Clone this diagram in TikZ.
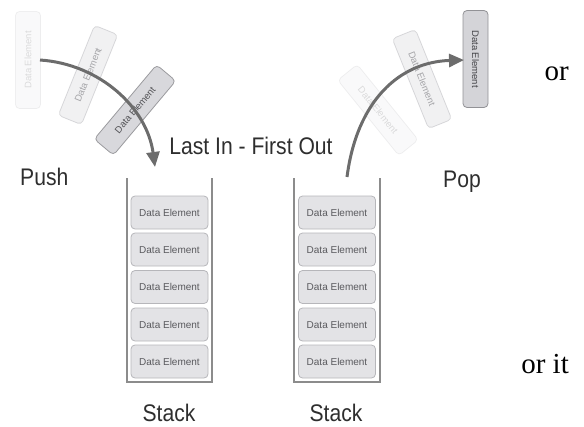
\documentclass[tikz,border=0pt]{standalone}
\usepackage{graphicx}
\usepackage{fontspec}
\setmainfont{Liberation Sans}
\newfontfamily\serifx{Liberation Serif}
\usetikzlibrary{arrows.meta}
\definecolor{elfill}{HTML}{E3E3E6}
\definecolor{elborder}{HTML}{B6B6BA}
\definecolor{eltext}{HTML}{5A5A5E}
\definecolor{darkfill}{HTML}{D4D4D8}
\definecolor{darkborder}{HTML}{929296}
\definecolor{darktext}{HTML}{444448}
\definecolor{arrowcol}{HTML}{6C6C6C}
\definecolor{wallcol}{HTML}{8C8C8C}
\definecolor{lbltext}{HTML}{2E2E2E}
\newcommand\squeezed[1]{\scalebox{0.88}[1]{#1}}
\begin{document}
\begin{tikzpicture}[x=1pt,y=-1pt,
  elem/.style={draw=elborder, line width=0.8pt, fill=elfill, rounded corners=4pt,
    minimum width=77pt, minimum height=33pt, inner sep=0pt, text=eltext,
    font=\fontsize{10}{12}\selectfont},
  fly/.style={elem, minimum width=97pt, minimum height=25pt, font=\fontsize{9.5}{11}\selectfont},
  flydark/.style={fly, fill=darkfill, draw=darkborder, text=darktext},
  lbl/.style={text=lbltext, font=\fontsize{24}{26}\selectfont, inner sep=0pt},
  serlbl/.style={text=black, font=\serifx\fontsize{29}{31}\selectfont, inner sep=0pt},
  wall/.style={draw=wallcol, line width=1.6pt},
  mover/.style={draw=arrowcol, line width=3pt, -{Triangle[length=15pt,width=13pt]}}]
\useasboundingbox (0,0) rectangle (584,426);

% stack walls
\draw[wall] (127,178) -- (127,382) -- (212,382) -- (212,178);
\draw[wall] (294,178) -- (294,382) -- (380,382) -- (380,178);

% stack elements
\node[elem] (l1) at (169.5,212.5) {Data Element};
\node[elem] (l2) at (169.5,249.5) {Data Element};
\node[elem] (l3) at (169.5,287) {Data Element};
\node[elem] (l4) at (169.5,324.5) {Data Element};
\node[elem] (l5) at (169.5,361.5) {Data Element};
\node[elem] (r1) at (337,212.5) {Data Element};
\node[elem] (r2) at (337,249.5) {Data Element};
\node[elem] (r3) at (337,287) {Data Element};
\node[elem] (r4) at (337,324.5) {Data Element};
\node[elem] (r5) at (337,361.5) {Data Element};

% floating elements (push side)
\node[fly, rotate=90, opacity=0.2] (pa) at (28,60) {Data Element};
\node[fly, rotate=68, opacity=0.5] (pb) at (88,75) {Data Element};
\node[flydark, rotate=50, opacity=0.9] (pc) at (135,110) {Data Element};

% floating elements (pop side)
\node[fly, rotate=-51, opacity=0.2] (qa) at (378,110) {Data Element};
\node[fly, rotate=-68, opacity=0.5] (qb) at (422,79) {Data Element};
\node[flydark, rotate=-90] (qc) at (475.5,59) {Data Element};

% arrows
\coordinate (pushstart) at (40,60);
\coordinate (pushend) at (155,167);
\draw[mover] (pushstart) .. controls (100,64) and (147,108) .. (pushend);
\coordinate (popstart) at (347,177);
\coordinate (popend) at (464,60);
\draw[mover] (popstart) .. controls (357,100) and (400,62) .. (popend);

% labels
\node[lbl, anchor=base] (lifo) at (251,154) {\squeezed{Last In - First Out}};
\node[lbl, anchor=base west] (push) at (20,185) {\squeezed{Push}};
\node[lbl, anchor=base west] (pop) at (443,187) {\squeezed{Pop}};
\node[lbl, anchor=base] (stackl) at (169,421) {\squeezed{Stack}};
\node[lbl, anchor=base] (stackr) at (336,421) {\squeezed{Stack}};
\node[serlbl, anchor=base east] (or1) at (569,80) {or};
\node[serlbl, anchor=base east] (or2) at (569,373) {or it};
\end{tikzpicture}
\end{document}
